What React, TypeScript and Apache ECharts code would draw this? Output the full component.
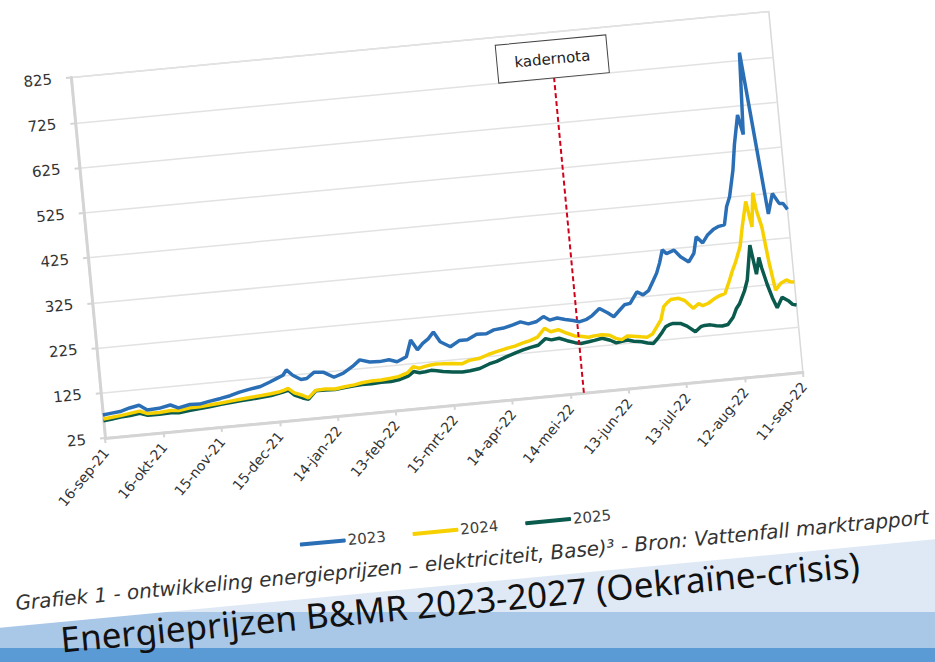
import React, { useEffect, useRef } from "react";
import * as echarts from "echarts";

const xTickLabels = [
  "16-sep-21", "16-okt-21", "15-nov-21", "15-dec-21", "14-jan-22", "13-feb-22",
  "15-mrt-22", "14-apr-22", "14-mei-22", "13-jun-22", "13-jul-22", "12-aug-22", "11-sep-22",
];
const seriesNames = ["2023", "2024", "2025"];
const seriesColors = ["#2a6fb5", "#f7d000", "#0b5a4e"];

// day offset from 16-sep-21
const days = [
  0, 4, 9, 14, 19, 23, 29, 35, 39, 45, 50, 55, 61, 66, 71, 76, 82, 87, 91, 94, 96, 99, 103, 106, 110,
  115, 120, 125, 130, 134, 139, 144, 149, 153, 158, 161, 164, 167, 170, 173, 176, 181, 186, 190, 195,
  200, 204, 209, 214, 218, 222, 226, 230, 233, 237, 241, 245, 248, 252, 255, 259, 263, 266, 269, 272,
  275, 279, 282, 285, 288, 290, 292, 294, 296, 300, 303, 307, 310, 312, 315, 318, 321, 324, 327, 329,
  331, 334, 336, 339, 341, 343, 344, 346, 348, 350, 353, 356, 358, 360,
];
const values2023 = [
  76, 78, 80, 86, 90, 78, 79, 84, 76, 81, 80, 84, 88, 92, 98, 102, 106, 114, 121, 126, 137, 124, 113, 114, 126,
  124, 111, 118, 131, 144, 137, 136, 138, 132, 141, 177, 154, 167, 176, 190, 167, 154, 166, 166, 176,
  175, 182, 184, 189, 194, 188, 191, 201, 192, 195, 190, 186, 182, 186, 193, 207, 196, 186, 198, 210,
  212, 236, 228, 236, 258, 273, 295, 323, 314, 320, 304, 291, 309, 345, 330, 347, 357, 363, 365, 405,
  426, 484, 540, 604, 560, 741, null, null, null, 380, 424, 401, 400, 386,
];
const values2024 = [
  67, 69, 71, 74, 77, 70, 70, 72, 70, 74, 74, 76, 78, 80, 82, 84, 86, 88, 90, 93, 96, 85, 78, 71, 86,
  87, 85, 88, 90, 93, 95, 95, 97, 99, 106, 118, 113, 116, 118, 119, 118, 117, 114, 120, 122,
  129, 133, 138, 142, 147, 151, 157, 175, 166, 169, 160, 152, 150, 146, 148, 149, 146, 138, 134, 141,
  139, 136, 134, 140, 158, 170, 198, 206, 212, 213, 207, 188, 197, 192, 196, 204, 210, 214, 243, 264,
  282, 315, 357, 412, 355, 430, 391, 353, 272, 211, 225, 231, 226, 225,
];
const values2025 = [
  63, 65, 68, 69, 72, 66, 66, 67, 65, 68, 70, 72, 75, 77, 79, 80, 82, 84, 87, 90, 92, 80, 72, 68, 85,
  85, 84, 86, 88, 89, 89, 90, 90, 92, 98, 107, 103, 104, 106, 104, 101, 98, 96, 97, 100,
  108, 112, 120, 127, 132, 136, 139, 152, 148, 150, 143, 137, 134, 136, 138, 141, 135, 128, 130, 132,
  128, 125, 121, 119, 132, 142, 153, 157, 159, 157, 150, 136, 146, 148, 148, 145, 143, 145, 160, 178,
  189, 215, 239, 315, 250, 286, 262, 225, 195, 172, 194, 185, 176, 174,
];
const kadernotaDay = 247;
const kadernotaLabel = "kadernota";
const captionText =
  "Grafiek 1 - ontwikkeling energieprijzen – elektriciteit, Base)³ - Bron: Vattenfall marktrapport";
const titleText = "Energieprijzen B&MR 2023-2027 (Oekraïne-crisis)";

const FONT = "DejaVu Sans, Verdana, sans-serif";

export default function App() {
  const ref = useRef<HTMLDivElement>(null);
  useEffect(() => {
    if (!ref.current) return;
    const chart = echarts.init(ref.current, null, { renderer: "svg" });
    const allValues = [values2023, values2024, values2025];
    const series: any[] = seriesNames.map((name, si) => ({
      name,
      type: "line",
      symbol: "none",
      showSymbol: false,
      data: days
        .map((d, i) => [d, allValues[si][i]])
        .filter((p) => p[1] !== null && p[1] !== undefined),
      lineStyle: { color: seriesColors[si], width: 3.5 },
      itemStyle: { color: seriesColors[si] },
      z: 5 - si,
    }));
    series[0].markLine = {
      silent: true,
      symbol: ["none", "none"],
      lineStyle: { color: "#d0021b", type: [5, 3], width: 2 },
      label: {
        show: true,
        position: "end",
        distance: 0,
        formatter: kadernotaLabel,
        backgroundColor: "#ffffff",
        borderColor: "#444444",
        borderWidth: 1,
        padding: [11, 17],
        fontFamily: FONT,
        fontSize: 15,
        color: "#222222",
      },
      data: [[{ coord: [kadernotaDay, 25] }, { coord: [kadernotaDay, 725] }]],
    };
    chart.setOption({
      animation: false,
      backgroundColor: "transparent",
      graphic: [
        {
          type: "rect",
          z: -100,
          silent: true,
          shape: { x: 0, y: 0, width: 1250, height: 767 },
          style: { fill: "#ffffff" },
        },
        {
          type: "text",
          x: 609,
          y: 744,
          silent: true,
          style: {
            text: captionText,
            font: `italic 20px ${FONT}`,
            fill: "#333333",
            textAlign: "center",
            textVerticalAlign: "middle",
            align: "center",
            verticalAlign: "middle",
          },
        },
        {
          type: "text",
          x: 593,
          y: 784,
          silent: true,
          style: {
            text: titleText,
            font: `35px "Noto Sans", sans-serif`,
            lineHeight: 36,
            fill: "#111111",
            textAlign: "center",
            textVerticalAlign: "middle",
            align: "center",
            verticalAlign: "middle",
          },
        },
      ],
      grid: {
        left: 255,
        top: 226,
        width: 701,
        height: 362,
        show: true,
        borderColor: "#d9d9d9",
        borderWidth: 1.5,
        backgroundColor: "transparent",
      },
      legend: {
        left: 434,
        top: 700,
        icon: "roundRect",
        itemWidth: 46,
        itemHeight: 4,
        itemGap: 27,
        data: seriesNames,
        textStyle: { fontFamily: FONT, fontSize: 15, color: "#404040", padding: [0, 0, 0, -3] },
      },
      xAxis: {
        type: "value",
        min: 0,
        max: 360,
        interval: 30,
        axisLine: { show: true, lineStyle: { color: "#d4d4d4", width: 3 } },
        axisTick: { show: true, length: 5, lineStyle: { color: "#d4d4d4", width: 2 } },
        splitLine: { show: false },
        axisLabel: {
          rotate: 45,
          margin: 12,
          fontFamily: FONT,
          fontSize: 14,
          color: "#333333",
          formatter: (v: number) => xTickLabels[Math.round(v / 30)] ?? "",
        },
      },
      yAxis: {
        type: "value",
        min: 25,
        max: 825,
        interval: 100,
        axisLine: { show: true, lineStyle: { color: "#d4d4d4", width: 3 } },
        axisTick: { show: true, length: 5, lineStyle: { color: "#d4d4d4", width: 2 } },
        splitLine: { show: true, lineStyle: { color: "#e2e2e2", width: 1.5 } },
        axisLabel: { margin: 19, fontFamily: FONT, fontSize: 15, color: "#333333" },
      },
      series,
    });
    return () => chart.dispose();
  }, []);

  return (
    <div
      style={{
        position: "fixed",
        left: 0,
        top: 0,
        width: 935,
        height: 662,
        overflow: "hidden",
        background:
          "linear-gradient(to bottom, #dfe9f5 0px, #dfe9f5 612px, #a9c7e7 612px, #a9c7e7 648px, #5b9bd5 648px, #5b9bd5 662px)",
      }}
    >
      <div
        ref={ref}
        style={{
          position: "absolute",
          left: -150,
          top: -150,
          width: 1250,
          height: 960,
          transform: "rotate(-5.4deg)",
          transformOrigin: "255px 588px",
        }}
      />
    </div>
  );
}
